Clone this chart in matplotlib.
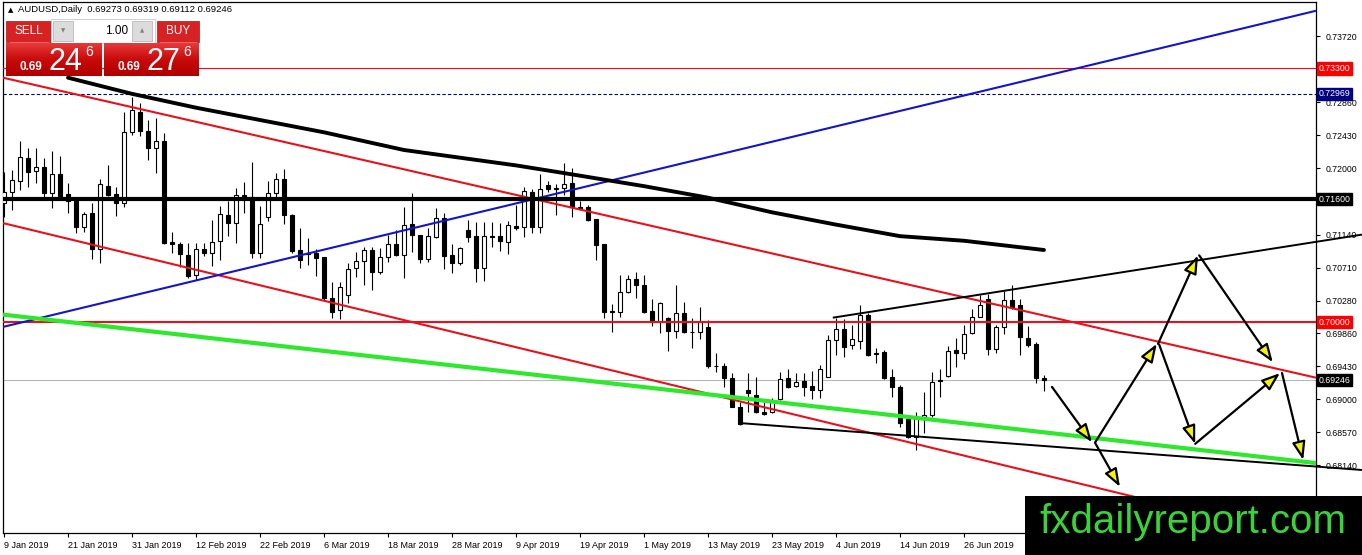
import numpy as np
import matplotlib.pyplot as plt
from matplotlib.patches import Rectangle
from matplotlib.colors import LinearSegmentedColormap

plt.rcParams['font.family'] = ['Liberation Sans', 'DejaVu Sans']

# ---------------- data ----------------
opens = [0.7155, 0.7169, 0.7184, 0.7214, 0.7197, 0.7202, 0.7168, 0.7193, 0.7167, 0.7158,
         0.7124, 0.7142, 0.7095, 0.7177, 0.7167, 0.7155, 0.7247, 0.7273, 0.7249, 0.7227,
         0.7236, 0.7104, 0.7102, 0.7088, 0.7062, 0.7095, 0.7090, 0.7106, 0.7139, 0.7129,
         0.7166, 0.7163, 0.7090, 0.7137, 0.7168, 0.7186, 0.7140, 0.7094, 0.7090, 0.7090,
         0.7085, 0.7032, 0.7016, 0.7036, 0.7071, 0.7080, 0.7094, 0.7065, 0.7085, 0.7102,
         0.7088, 0.7128, 0.7113, 0.7082, 0.7111, 0.7136, 0.7088, 0.7077, 0.7120, 0.7112,
         0.7071, 0.7112, 0.7112, 0.7104, 0.7125, 0.7124, 0.7169, 0.7124, 0.7178, 0.7173,
         0.7175, 0.7181, 0.7150, 0.7150, 0.7134, 0.7102, 0.7015, 0.7013, 0.7039, 0.7056,
         0.7049, 0.7015, 0.7000, 0.7006, 0.6989, 0.7012, 0.6987, 0.6987, 0.6994, 0.6943,
         0.6943, 0.6928, 0.6890, 0.6912, 0.6906, 0.6883, 0.6883, 0.6900, 0.6928, 0.6917,
         0.6924, 0.6917, 0.6912, 0.6929, 0.6977, 0.6991, 0.6970, 0.6976, 0.7010, 0.6960,
         0.6961, 0.6929, 0.6916, 0.6874, 0.6851, 0.6877, 0.6879, 0.6925, 0.6930, 0.6964,
         0.6960, 0.6986, 0.7007, 0.7030, 0.6965, 0.6994, 0.7029, 0.7023, 0.6980, 0.6972,
         0.69273]
highs = [0.7195, 0.7198, 0.7236, 0.7227, 0.7227, 0.7214, 0.7223, 0.7216, 0.7181, 0.7162,
         0.7143, 0.7155, 0.7186, 0.7204, 0.7176, 0.7273, 0.7293, 0.7285, 0.7263, 0.7266,
         0.7246, 0.7117, 0.7104, 0.7103, 0.7103, 0.7103, 0.7133, 0.7151, 0.7158, 0.7175,
         0.7182, 0.7208, 0.7151, 0.7184, 0.7194, 0.7199, 0.7141, 0.7123, 0.7110, 0.7095,
         0.7085, 0.7052, 0.7052, 0.7077, 0.7091, 0.7098, 0.7098, 0.7097, 0.7113, 0.7120,
         0.7150, 0.7168, 0.7113, 0.7123, 0.7149, 0.7142, 0.7102, 0.7098, 0.7133, 0.7130,
         0.7130, 0.7130, 0.7129, 0.7132, 0.7153, 0.7176, 0.7173, 0.7193, 0.7184, 0.7180,
         0.7207, 0.7201, 0.7158, 0.7153, 0.7134, 0.7102, 0.7024, 0.7062, 0.7062, 0.7065,
         0.7062, 0.7030, 0.7026, 0.7007, 0.7049, 0.7026, 0.7006, 0.7020, 0.7003, 0.6960,
         0.6947, 0.6934, 0.6896, 0.6934, 0.6929, 0.6896, 0.6902, 0.6935, 0.6939, 0.6934,
         0.6934, 0.6937, 0.6944, 0.6984, 0.7006, 0.7004, 0.6997, 0.7023, 0.7012, 0.6967,
         0.6964, 0.6939, 0.6918, 0.6877, 0.6883, 0.6909, 0.6935, 0.6939, 0.6969, 0.6980,
         0.6997, 0.7017, 0.7036, 0.7037, 0.6997, 0.7041, 0.7049, 0.7030, 0.6995, 0.6974,
         0.69319]
lows = [0.7137, 0.7146, 0.7172, 0.7176, 0.7181, 0.7163, 0.7149, 0.7159, 0.7142, 0.7116,
        0.7117, 0.7082, 0.7077, 0.7164, 0.7138, 0.7150, 0.7243, 0.7242, 0.7211, 0.7194,
        0.7102, 0.7090, 0.7072, 0.7058, 0.7055, 0.7086, 0.7073, 0.7081, 0.7112, 0.7103,
        0.7142, 0.7084, 0.7084, 0.7132, 0.7162, 0.7128, 0.7090, 0.7071, 0.7074, 0.7060,
        0.7029, 0.7006, 0.7004, 0.7025, 0.7059, 0.7049, 0.7042, 0.7063, 0.7078, 0.7086,
        0.7058, 0.7091, 0.7077, 0.7078, 0.7110, 0.7069, 0.7064, 0.7074, 0.7104, 0.7052,
        0.7054, 0.7098, 0.7093, 0.7089, 0.7120, 0.7111, 0.7116, 0.7116, 0.7169, 0.7140,
        0.7166, 0.7137, 0.7147, 0.7132, 0.7081, 0.7006, 0.6987, 0.7007, 0.7038, 0.7032,
        0.7012, 0.6995, 0.6986, 0.6963, 0.6980, 0.6986, 0.6967, 0.6978, 0.6941, 0.6935,
        0.6916, 0.6890, 0.6867, 0.6883, 0.6882, 0.6879, 0.6882, 0.6899, 0.6915, 0.6916,
        0.6904, 0.6900, 0.6902, 0.6929, 0.6958, 0.6955, 0.6965, 0.6965, 0.6956, 0.6947,
        0.6926, 0.6903, 0.6864, 0.6850, 0.6834, 0.6856, 0.6877, 0.6903, 0.6929, 0.6942,
        0.6952, 0.6985, 0.7007, 0.6958, 0.6960, 0.6985, 0.7017, 0.6958, 0.6968, 0.6921,
        0.69112]
closes = [0.7169, 0.7185, 0.7215, 0.7195, 0.7202, 0.7168, 0.7193, 0.7163, 0.7158, 0.7124,
          0.7141, 0.7095, 0.7180, 0.7166, 0.7155, 0.7247, 0.7276, 0.7249, 0.7227, 0.7236,
          0.7103, 0.7102, 0.7089, 0.7060, 0.7095, 0.7090, 0.7104, 0.7141, 0.7129, 0.7166,
          0.7162, 0.7090, 0.7128, 0.7168, 0.7186, 0.7140, 0.7093, 0.7081, 0.7089, 0.7084,
          0.7032, 0.7013, 0.7046, 0.7069, 0.7080, 0.7094, 0.7065, 0.7085, 0.7102, 0.7088,
          0.7127, 0.7113, 0.7082, 0.7112, 0.7136, 0.7086, 0.7077, 0.7097, 0.7111, 0.7071,
          0.7112, 0.7111, 0.7106, 0.7127, 0.7123, 0.7171, 0.7124, 0.7173, 0.7173, 0.7175,
          0.7180, 0.7150, 0.7149, 0.7133, 0.7100, 0.7013, 0.7014, 0.7039, 0.7056, 0.7049,
          0.7013, 0.7000, 0.7025, 0.6989, 0.7012, 0.6987, 0.6988, 0.7000, 0.6943, 0.6943,
          0.6928, 0.6890, 0.6868, 0.6908, 0.6883, 0.6881, 0.6899, 0.6926, 0.6916, 0.6922,
          0.6916, 0.6912, 0.6939, 0.6977, 0.6991, 0.6968, 0.6978, 0.7010, 0.6958, 0.6959,
          0.6928, 0.6916, 0.6869, 0.6851, 0.6876, 0.6879, 0.6922, 0.6924, 0.6963, 0.6960,
          0.6985, 0.7007, 0.7023, 0.6965, 0.6994, 0.7029, 0.7020, 0.6981, 0.6970, 0.6928,
          0.69246]

date_labels = ['9 Jan 2019', '21 Jan 2019', '31 Jan 2019', '12 Feb 2019', '22 Feb 2019',
               '6 Mar 2019', '18 Mar 2019', '28 Mar 2019', '9 Apr 2019', '19 Apr 2019',
               '1 May 2019', '13 May 2019', '23 May 2019', '4 Jun 2019', '14 Jun 2019',
               '26 Jun 2019']
date_label_bars = list(range(0, 121, 8))

price_ticks = [0.73720, 0.72860, 0.72430, 0.72000, 0.71140, 0.70710, 0.70280,
               0.69860, 0.69430, 0.69000, 0.68570, 0.68140]

# moving average (bar index, value)
ma_bars = [8, 16, 24, 32, 40, 50, 57, 64, 70, 80, 88, 96, 104, 112, 120, 130]
ma_vals = [0.7318, 0.7297, 0.7279, 0.7263, 0.7247, 0.7224, 0.7214, 0.7204, 0.7194,
           0.7177, 0.7162, 0.7143, 0.7127, 0.7112, 0.7106, 0.7094]

# horizontal levels
level_sell_zone = 0.73300
level_dash = 0.72969
level_black = 0.71600
level_red = 0.70000
last_price = 0.69246

# trend lines: (bar0, price0, bar1, price1)
red_upper = (-0.125, 0.7318, 164.0, 0.6928)
red_lower = (-0.125, 0.7129, 164.0, 0.6716)
blue_line = (-0.125, 0.6994, 164.0, 0.7405)
green_line = (-0.125, 0.7010, 164.0, 0.6817)
wedge_top = (103.6, 0.7006, 169.75, 0.7114)
wedge_bottom = (92.0, 0.6869, 169.75, 0.6808)

# projected path arrows: (bar_from, price_from, bar_to, price_to)
arrows = [(131.0, 0.6916, 136.0, 0.6844),
          (136.4, 0.6844, 144.1, 0.6972),
          (144.25, 0.6972, 149.25, 0.7087),
          (149.4, 0.7087, 158.6, 0.6948),
          (136.4, 0.6843, 139.5, 0.6786),
          (144.4, 0.6971, 148.9, 0.6842),
          (148.9, 0.6842, 159.5, 0.6934),
          (159.75, 0.6934, 162.4, 0.6821)]

W, H = 1362, 555
fig = plt.figure(figsize=(W / 100, H / 100), dpi=100)
ax = fig.add_axes([3 / W, (H - 533) / H, (1316 - 3) / W, (533 - 2) / H])
ax.set_xlim(-0.125, 164.0)
ax.set_ylim(0.67261, 0.74164)

# candles
for i in range(len(opens)):
    o, h, l, c = opens[i], highs[i], lows[i], closes[i]
    ax.plot([i, i], [l, h], color='black', lw=0.8, zorder=2, solid_capstyle='butt')
    bull = c >= o
    lo, hi = min(o, c), max(o, c)
    ax.add_patch(Rectangle((i - 0.31, lo), 0.62, max(hi - lo, 0.00002),
                           facecolor='white' if bull else 'black', edgecolor='black',
                           lw=0.8, zorder=3))

red = '#e8101a'
ax.axhline(level_sell_zone, color=red, lw=0.8, zorder=4)
ax.axhline(level_dash, color='#000080', lw=0.8, ls=(0, (3, 2)), zorder=4)
ax.axhline(last_price, color='#b8b8b8', lw=0.8, zorder=1)
ax.axhline(level_red, color=red, lw=1.5, zorder=4)
ax.axhline(level_black, color='black', lw=3.0, zorder=5)

def tline(seg, color, lw, clip=True, z=4):
    ax.plot([seg[0], seg[2]], [seg[1], seg[3]], color=color, lw=lw, zorder=z,
            clip_on=clip, solid_capstyle='butt')

tline(red_upper, red, 1.5)
tline(red_lower, red, 1.5)
tline(blue_line, '#1414c8', 1.5)
tline(green_line, '#2ee82e', 3.0)
tline(wedge_top, 'black', 1.4, clip=False)
tline(wedge_bottom, 'black', 1.4, clip=False)

ax.plot(ma_bars, ma_vals, color='black', lw=2.8, zorder=5, solid_capstyle='round')

for a in arrows:
    ax.annotate('', xy=(a[2], a[3]), xytext=(a[0], a[1]), zorder=6,
                arrowprops=dict(arrowstyle='-|>,head_length=0.55,head_width=0.2',
                                mutation_scale=20, lw=1.6, ec='black', fc='#f2f20a',
                                shrinkA=0, shrinkB=0))

# axes styling
for s in ax.spines.values():
    s.set_color('black')
    s.set_linewidth(0.9)
ax.yaxis.tick_right()
ax.set_yticks(price_ticks)
ax.set_yticklabels(['%.5f' % p for p in price_ticks])
ax.tick_params(axis='y', direction='out', length=3, width=0.8, pad=4, labelsize=6.3)
ax.set_xticks(date_label_bars)
ax.set_xticklabels(date_labels, ha='left')
ax.tick_params(axis='x', direction='out', length=3, width=0.8, pad=3, labelsize=6.5)

# coloured price tags on the right scale
def tag(price, bg, fg='white'):
    ax.text(1.0018, price, '%.5f' % price, transform=ax.get_yaxis_transform(),
            ha='left', va='center', fontsize=6.3, color=fg, zorder=10, clip_on=False,
            bbox=dict(boxstyle='square,pad=0.18', fc=bg, ec=bg))

tag(level_sell_zone, '#ff0000')
tag(level_dash, '#000080')
tag(level_black, 'black')
tag(level_red, '#ff0000')
tag(last_price, 'black')

# overlay: trade panel, header, watermark
ov = fig.add_axes([0, 0, 1, 1], zorder=20)
ov.set_xlim(0, W)
ov.set_ylim(H, 0)
ov.axis('off')
ov.patch.set_alpha(0)

ov.text(8, 10, '\u25b2', fontsize=5, va='center', ha='left', family=['DejaVu Sans'])
ov.text(18, 10, 'AUDUSD,Daily  0.69273 0.69319 0.69112 0.69246', fontsize=6.8,
        va='center', ha='left', color='black')

btn = '#d62222'
ov.add_patch(Rectangle((6, 21), 45, 21, fc=btn, ec='#b01010', lw=0.5))
ov.add_patch(Rectangle((157, 21), 42, 21, fc=btn, ec='#b01010', lw=0.5))
ov.text(28.5, 31.5, 'SELL', color='white', fontsize=8.5, ha='center', va='center')
ov.text(178, 31.5, 'BUY', color='white', fontsize=8.5, ha='center', va='center')
ov.plot([10, 48], [41.5, 41.5], color='#f07070', lw=0.6)
ov.plot([160, 196], [41.5, 41.5], color='#f07070', lw=0.6)

ov.add_patch(Rectangle((51, 19), 104, 24, fc='white', ec='#c8c8c8', lw=0.6))
ov.add_patch(Rectangle((53, 21), 20, 20, fc='#dcdcdc', ec='#b0b0b0', lw=0.5))
ov.add_patch(Rectangle((132, 21), 20, 20, fc='#dcdcdc', ec='#b0b0b0', lw=0.5))
ov.text(63, 31, '\u25bc', fontsize=4, color='#808080', ha='center', va='center',
        family=['DejaVu Sans'])
ov.text(142, 31, '\u25b2', fontsize=4, color='#808080', ha='center', va='center',
        family=['DejaVu Sans'])
ov.text(128, 31, '1.00', fontsize=8.5, color='black', ha='right', va='center')

cmap = LinearSegmentedColormap.from_list('panel', ['#e83a3a', '#c80a0a', '#b00000'])
grad = np.linspace(0, 1, 64).reshape(-1, 1)
for x0, x1 in [(6, 102), (104, 199)]:
    ov.imshow(grad, extent=[x0, x1, 76, 43], cmap=cmap, aspect='auto', zorder=1)
ov.set_xlim(0, W)
ov.set_ylim(H, 0)

for xs, big in [(20, '24'), (118, '27')]:
    ov.text(xs, 70, '0.69', fontsize=8.5, fontweight='bold', color='white',
            ha='left', va='baseline', zorder=3)
    ov.text(xs + 29, 70, big, fontsize=22, color='white', ha='left', va='baseline', zorder=3)
    ov.text(xs + 65, 56, '6', fontsize=10, color='white', ha='left', va='baseline', zorder=3)

# watermark
ov.add_patch(Rectangle((1025, 496), W - 1025, H - 496, fc='black', ec='none', zorder=5))
ov.text(1193, 522, 'fxdailyreport.com', fontsize=29, color='#3ad23a', ha='center',
        va='center', zorder=6, family=['Liberation Sans Narrow', 'Liberation Sans'])

fig.savefig('out.png', dpi=100, facecolor='white')
